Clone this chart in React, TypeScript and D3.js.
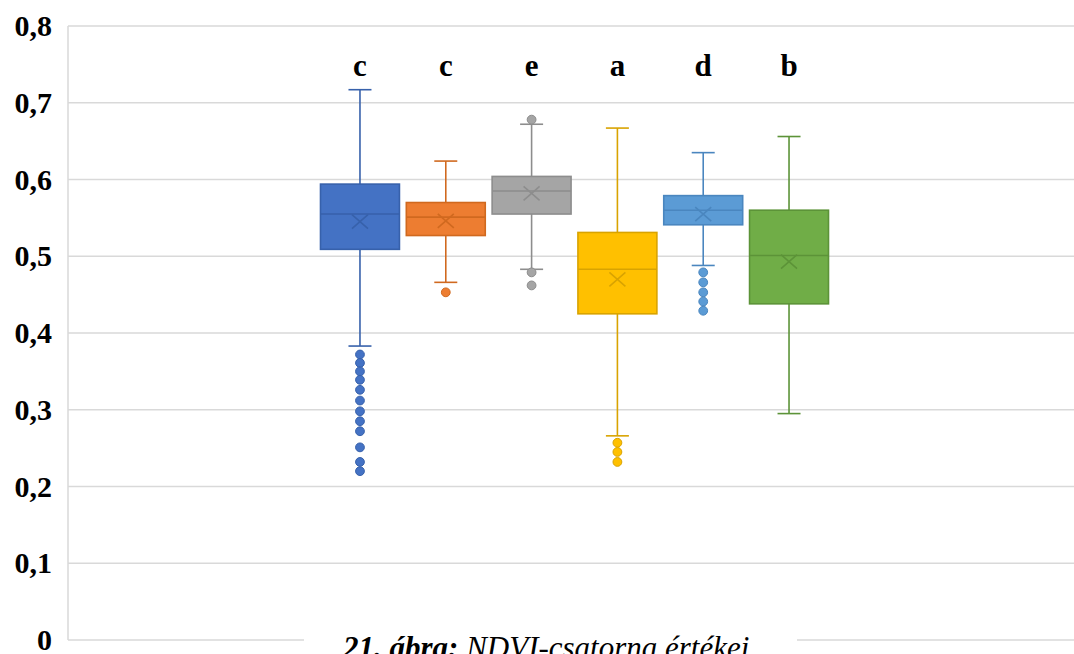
import React from 'react';
import { scaleLinear, scaleBand } from 'd3';

// series order as drawn, left to right
const series = ['s1', 's2', 's3', 's4', 's5', 's6'];
const letters = ['c', 'c', 'e', 'a', 'd', 'b'];
const fills = ['#4472C4', '#ED7D31', '#A5A5A5', '#FFC000', '#5B9BD5', '#70AD47'];
const strokes = ['#3761AB', '#D0691F', '#8D8D8D', '#D9A300', '#4A86BF', '#5C9338'];

const whiskerHigh = [0.717, 0.624, 0.672, 0.667, 0.635, 0.656];
const q3 = [0.594, 0.570, 0.604, 0.531, 0.579, 0.560];
const median = [0.555, 0.551, 0.585, 0.483, 0.560, 0.501];
const mean = [0.545, 0.546, 0.582, 0.470, 0.555, 0.493];
const q1 = [0.509, 0.527, 0.555, 0.425, 0.541, 0.438];
const whiskerLow = [0.383, 0.466, 0.483, 0.266, 0.488, 0.295];
const outliers = [
  [0.372, 0.361, 0.350, 0.339, 0.326, 0.312, 0.298, 0.285, 0.272, 0.251, 0.232, 0.220],
  [0.453],
  [0.678, 0.479, 0.462],
  [0.257, 0.245, 0.232],
  [0.479, 0.466, 0.453, 0.441, 0.429],
  [],
];

const yTicks = [0, 0.1, 0.2, 0.3, 0.4, 0.5, 0.6, 0.7, 0.8];

const W = 1074;
const H = 654;

export default function App() {
  const y = scaleLinear().domain([0, 0.8]).range([640, 26]);
  const x = scaleBand().domain(series).range([320.5, 828.5]).paddingInner(0.08);
  const bw = x.bandwidth();
  const cap = 23;
  const fmt = (v: number) => (v === 0 ? '0' : v.toFixed(1).replace('.', ','));

  return (
    <div style={{ position: 'fixed', left: 0, top: 0 }}>
      <svg width={W} height={H} style={{ display: 'block', fontFamily: '"Liberation Serif", "Times New Roman", serif' }}>
        <rect width={W} height={H} fill="#fff" />
        {yTicks.map(t => (
          <g key={t}>
            <line x1={68} x2={W} y1={y(t)} y2={y(t)} stroke="#D9D9D9" strokeWidth={1.5} />
            <text x={52} y={y(t) + 10} textAnchor="end" fontSize={30} fontWeight="bold">{fmt(t)}</text>
          </g>
        ))}
        <line x1={68} x2={68} y1={y(0.8)} y2={y(0)} stroke="#D9D9D9" strokeWidth={1.5} />

        {series.map((s, i) => {
          const cx = (x(s) as number) + bw / 2;
          const st = strokes[i];
          const my = y(mean[i]);
          return (
            <g key={s}>
              <line x1={cx} x2={cx} y1={y(whiskerHigh[i])} y2={y(q3[i])} stroke={st} strokeWidth={1.6} />
              <line x1={cx} x2={cx} y1={y(q1[i])} y2={y(whiskerLow[i])} stroke={st} strokeWidth={1.6} />
              <line x1={cx - cap / 2} x2={cx + cap / 2} y1={y(whiskerHigh[i])} y2={y(whiskerHigh[i])} stroke={st} strokeWidth={1.6} />
              <line x1={cx - cap / 2} x2={cx + cap / 2} y1={y(whiskerLow[i])} y2={y(whiskerLow[i])} stroke={st} strokeWidth={1.6} />
              <rect x={x(s)} y={y(q3[i])} width={bw} height={y(q1[i]) - y(q3[i])} fill={fills[i]} stroke={st} strokeWidth={1.6} />
              <line x1={x(s)} x2={(x(s) as number) + bw} y1={y(median[i])} y2={y(median[i])} stroke={st} strokeWidth={1.6} />
              <path d={`M${cx - 8},${my - 7}L${cx + 8},${my + 7}M${cx - 8},${my + 7}L${cx + 8},${my - 7}`} stroke={st} strokeWidth={1.6} fill="none" />
              {outliers[i].map((o, j) => (
                <circle key={j} cx={cx} cy={y(o)} r={4.4} fill={fills[i]} stroke={st} strokeWidth={1} />
              ))}
              <text x={cx} y={76} textAnchor="middle" fontSize={31} fontWeight="bold">{letters[i]}</text>
            </g>
          );
        })}

        <rect x={304} y={620} width={493} height={H - 620} fill="#fff" />
        <text x={343} y={658} fontSize={31} fontStyle="italic">
          <tspan fontWeight="bold">21. ábra:</tspan>
          <tspan> NDVI-csatorna értékei</tspan>
        </text>
      </svg>
    </div>
  );
}
